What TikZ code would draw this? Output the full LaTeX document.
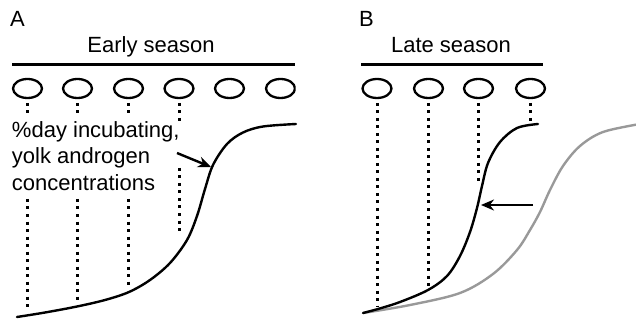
\documentclass[tikz,border=0pt]{standalone}
\usepackage{fontspec}
\setmainfont{Liberation Sans}
\usetikzlibrary{arrows.meta,shapes.geometric}
\begin{document}
\begin{tikzpicture}[x=1pt,y=-1pt,
  lbl/.style={font=\fontsize{22}{26}\selectfont, inner sep=0pt, outer sep=0pt},
  egg/.style={draw, ellipse, line width=2.3pt, minimum width=29pt, minimum height=19pt, inner sep=0pt, outer sep=0pt},
  rule/.style={line width=3pt},
  dotline/.style={line width=3pt, dash pattern=on 3pt off 4.5pt},
  curve/.style={line width=2.4pt, line cap=round},
  graycurve/.style={line width=2.4pt, draw=black!40},
  pointer/.style={line width=2.4pt, -{Stealth[length=13pt,width=11pt]}}
]
\useasboundingbox (0,0) rectangle (636,320);

% ---------- Panel A ----------
\node[lbl, anchor=base west] (lA) at (10,27) {A};
\node[lbl, anchor=base] (hA) at (151,53) {Early season};
\draw[rule] (12,65) -- (295,65);
\begin{scope}
  \clip (0,0) rectangle (295.5,320);
  \foreach \i/\x in {1/27.5,2/77.5,3/128.5,4/179,5/229.5,6/280.5}
    \node[egg] (a\i) at (\x,88.5) {};
\end{scope}

\node[lbl, anchor=base west] (t1) at (12,138) {\%day incubating,};
\node[lbl, anchor=base west] (t2) at (12,164) {yolk androgen};
\node[lbl, anchor=base west] (t3) at (12,190) {concentrations};

% dotted drops, panel A
\foreach \i/\x/\ya/\yb/\ye in {1/27.5/115/199/310, 2/77.5/115/199/302, 3/128.5/115/199/288, 4/179/122/168/232}{
  \coordinate (ua\i) at (\x,103);
  \coordinate (va\i) at (\x,\ya);
  \coordinate (wa\i) at (\x,\yb);
  \coordinate (za\i) at (\x,\ye);
  \draw[dotline] (ua\i) -- (va\i);
  \draw[dotline] (wa\i) -- (za\i);
}

\draw[curve] plot[smooth, tension=0.55] coordinates {
 (17,317) (45,312.5) (77,306.5) (105,300) (129,292) (150,280) (170,263)
 (187,240) (197,216) (205,189) (213,165) (227,144) (243,132.5) (263,126.5) (296,124)};

\coordinate (pA1) at (177,153);
\coordinate (pA2) at (211,167);
\draw[pointer] (pA1) -- (pA2);

% ---------- Panel B ----------
\node[lbl, anchor=base west] (lB) at (359,27) {B};
\node[lbl, anchor=base] (hB) at (451,53) {Late season};
\draw[rule] (361,65) -- (543,65);
\foreach \i/\x in {1/377,2/428.5,3/478.5,4/530.5}
  \node[egg] (b\i) at (\x,88.5) {};

\foreach \i/\x/\ye in {1/377/307, 2/428.5/290, 3/478.5/185, 4/530.5/122}{
  \coordinate (ub\i) at (\x,103);
  \coordinate (zb\i) at (\x,\ye);
  \draw[dotline] (ub\i) -- (zb\i);
}

\draw[graycurve] plot[smooth, tension=0.55] coordinates {
 (363,313) (410,305) (460,293) (493,274) (517,250) (530,230) (540,212)
 (550,190) (563,166) (580,146) (603,132) (640,124)};

\draw[curve] plot[smooth, tension=0.55] coordinates {
 (363,313) (378,309) (400,302) (428,290) (447,276) (460,256) (470,232)
 (477,208) (482,186) (488,163) (500,142) (517,128) (538,124)};

\coordinate (pB1) at (533,205);
\coordinate (pB2) at (481,205);
\draw[pointer] (pB1) -- (pB2);
\end{tikzpicture}
\end{document}
